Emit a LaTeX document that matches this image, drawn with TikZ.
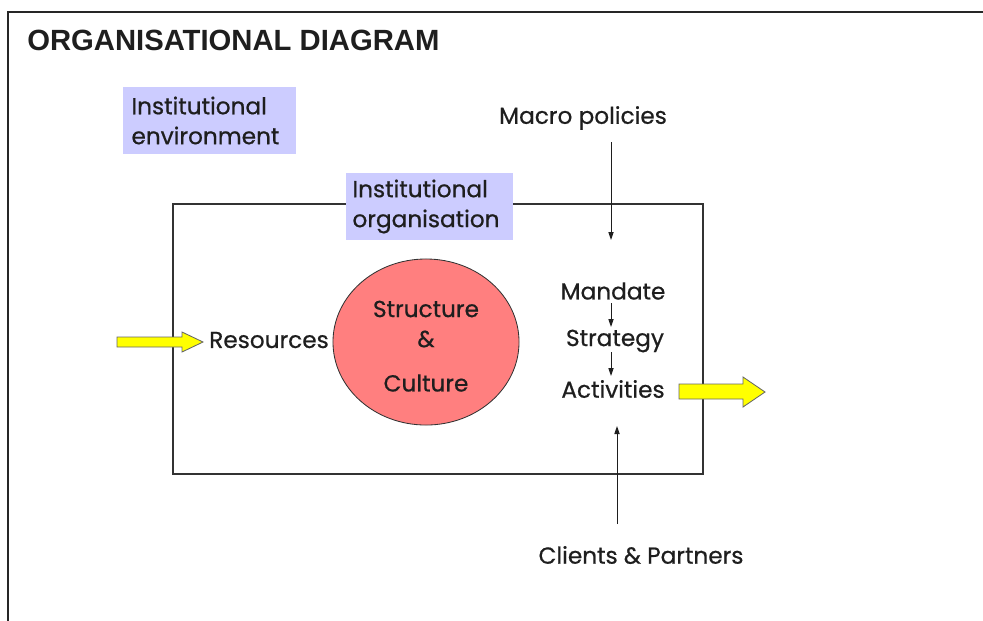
\documentclass[tikz,border=0pt]{standalone}
\usepackage{fontspec}
\setmainfont{Liberation Sans}
\newfontfamily\comic[FakeBold=0.6]{Poppins}
\usetikzlibrary{arrows.meta,shapes.geometric}
\definecolor{lav}{HTML}{CCCCFF}
\definecolor{salmon}{HTML}{FF7F7F}
\definecolor{yel}{HTML}{FFFF00}
\definecolor{ink}{HTML}{1E1E1E}
\definecolor{framec}{HTML}{333333}
\begin{document}
\begin{tikzpicture}[x=0.025cm,y=-0.025cm,
  lbl/.style={font=\comic\fontsize{16.5}{20}\selectfont, text=ink, inner sep=0pt},
  lavbox/.style={fill=lav, minimum height=1.675cm, align=left, inner sep=0pt, font=\comic\fontsize{16.5}{21.3}\selectfont, text=ink},
  conn/.style={draw=ink, line width=0.7pt, -{Triangle[length=2mm,width=1.3mm]}},
  bigarrow/.style={fill=yel, draw=black!60, line width=0.6pt}]
\useasboundingbox (0,0) rectangle (983,620);
% page frame
\draw[line width=1.2pt, black!85] (8,625) -- (8,12) -- (990,12);
% title
\node[anchor=base west, inner sep=0pt, font=\bfseries\fontsize{20.8}{24}\selectfont, text=ink] (title) at (27,50) {ORGANISATIONAL DIAGRAM};
% institutional environment
\node[lavbox, minimum width=4.325cm, text width=3.9cm] (env) at (209.5,120.5) {Institutional\\environment};
% organisation rectangle
\node[draw=framec, line width=0.9pt, minimum width=13.25cm, minimum height=6.75cm, inner sep=0pt] (org) at (438,339) {};
\node[lavbox, minimum width=4.175cm, text width=3.85cm] (orgl) at (429.5,206.5) {Institutional\\organisation};
% circle
\node[ellipse, draw=black!80, line width=0.6pt, fill=salmon, minimum width=4.65cm, minimum height=4.15cm, inner sep=0pt] (sc) at (426,342) {};
\node[lbl] (s1) at (426,309) {Structure};
\node[lbl] (s2) at (426,339) {\&};
\node[lbl] (s3) at (426,383) {Culture};
% texts
\node[lbl] (res) at (269,340) {Resources};
\node[lbl] (macro) at (583,118) {Macro policies};
\node[lbl] (mand) at (613,291) {Mandate};
\node[lbl] (strat) at (615,341) {Strategy};
\node[lbl] (act) at (613,389) {Activities};
\node[lbl] (cli) at (641,555) {Clients \& Partners};
% connectors
\coordinate (mtop) at (611,142);
\coordinate (mbot) at (611,240);
\draw[conn] (mtop) -- (mbot);
\coordinate (a1) at (611,303);
\coordinate (a2) at (611,327);
\draw[conn] (a1) -- (a2);
\coordinate (b1) at (611,352);
\coordinate (b2) at (611,376);
\draw[conn] (b1) -- (b2);
\coordinate (c1) at (617,524);
\coordinate (c2) at (617,426);
\draw[conn] (c1) -- (c2);
% yellow arrows
\draw[bigarrow] (117,337) -- (182,337) -- (182,332) -- (203,342) -- (182,352) -- (182,347) -- (117,347) -- cycle;
\draw[bigarrow] (679,384) -- (743,384) -- (743,377) -- (765,392) -- (743,407) -- (743,399) -- (679,399) -- cycle;
\end{tikzpicture}
\end{document}
